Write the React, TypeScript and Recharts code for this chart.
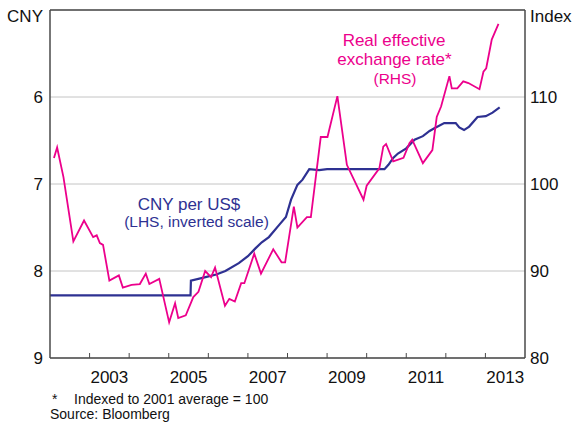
import { CartesianGrid, Line, LineChart, ReferenceLine, XAxis, YAxis } from 'recharts'

// Real effective exchange rate (index, RHS)
const reerDates = [
  2002.10, 2002.18, 2002.34, 2002.59, 2002.86, 2003.09, 2003.18, 2003.26, 2003.34, 2003.50,
  2003.74, 2003.84, 2004.06, 2004.27, 2004.42, 2004.51, 2004.76, 2005.01, 2005.16, 2005.24,
  2005.43, 2005.62, 2005.75, 2005.92, 2006.07, 2006.17, 2006.42, 2006.53, 2006.67, 2006.83,
  2006.91, 2007.16, 2007.33, 2007.64, 2007.85, 2007.94, 2008.16, 2008.25, 2008.49, 2008.59,
  2008.84, 2009.01, 2009.26, 2009.50, 2009.92, 2010.00, 2010.32, 2010.42, 2010.49, 2010.67,
  2010.93, 2011.08, 2011.15, 2011.42, 2011.66, 2011.77, 2011.88, 2012.09, 2012.15, 2012.29,
  2012.44, 2012.57, 2012.85, 2012.95, 2013.02, 2013.16, 2013.33
]
const reerValues = [
  103.0, 104.2, 100.8, 93.4, 95.8, 93.9, 94.1, 93.2, 93.0, 88.9,
  89.5, 88.1, 88.4, 88.5, 89.7, 88.5, 89.1, 84.1, 86.3, 84.6,
  84.9, 87.0, 87.6, 90.0, 89.3, 90.4, 86.0, 86.8, 86.5, 88.6,
  88.6, 92.0, 89.7, 92.5, 91.0, 91.0, 97.4, 95.0, 96.2, 96.2,
  105.4, 105.4, 110.1, 102.2, 98.2, 99.8, 101.8, 104.3, 104.6, 102.6,
  103.0, 104.7, 105.1, 102.4, 103.9, 107.7, 108.9, 112.4, 111.0, 111.0,
  111.8, 111.6, 110.9, 112.9, 113.3, 116.6, 118.4
]

// CNY per US$ (LHS, inverted)
const cnyDates = [
  2002.0, 2003.0, 2004.0, 2005.0, 2005.55, 2005.56, 2005.93, 2006.2, 2006.43, 2006.77,
  2007.0, 2007.19, 2007.35, 2007.53, 2007.79, 2007.96, 2008.09, 2008.25, 2008.38, 2008.55,
  2008.8, 2009.0, 2009.5, 2010.0, 2010.45, 2010.55, 2010.67, 2010.79, 2011.0, 2011.21,
  2011.42, 2011.59, 2011.71, 2011.96, 2012.25, 2012.34, 2012.46, 2012.59, 2012.80, 2013.01,
  2013.18, 2013.36
]
const cnyValues = [
  8.28, 8.28, 8.28, 8.28, 8.28, 8.11, 8.07, 8.04, 8.0, 7.91,
  7.83, 7.74, 7.67, 7.61, 7.47, 7.38, 7.18, 7.01, 6.95, 6.83,
  6.84, 6.83, 6.83, 6.83, 6.83, 6.78, 6.70, 6.65, 6.59, 6.49,
  6.45, 6.39, 6.36, 6.30, 6.30, 6.35, 6.38, 6.34, 6.23, 6.22,
  6.18, 6.12
]

const yearTicks = [2003, 2004, 2005, 2006, 2007, 2008, 2009, 2010, 2011, 2012, 2013]
const cnyTicks = [5, 6, 7, 8, 9]
const indexTicks = [80, 90, 100, 110, 120]

const reerData = reerDates.map((t, i) => ({ t, v: reerValues[i] }))
const cnyData = cnyDates.map((t, i) => ({ t, v: cnyValues[i] }))

const W = 575
const H = 423
const PLOT_W = 475
const HALF_YEAR = PLOT_W / 24
const FONT = '"Liberation Sans", Arial, sans-serif'
const PINK = '#ec008c'
const BLUE = '#2e3192'
const FRAME = '#4a4a4a'

const YearTick = ({ x, y, payload }: any) => (
  <g>
    <line x1={x} x2={x} y1={y} y2={y - 5} stroke={FRAME} strokeWidth={1} />
    {payload.value % 2 === 1 && (
      <text x={x + HALF_YEAR} y={y + 25} textAnchor="middle" fontSize={17} fontFamily={FONT} fill="#111">
        {payload.value}
      </text>
    )}
  </g>
)

const LeftTick = ({ x, y, payload }: any) => (
  <text x={x} y={y + (payload.value === 5 ? 6 : 0)} dy={6} textAnchor="end" fontSize={17} fontFamily={FONT} fill="#111">
    {payload.value === 5 ? 'CNY' : payload.value}
  </text>
)

const RightTick = ({ x, y, payload }: any) => (
  <text x={x} y={y + (payload.value === 120 ? 6 : 0)} dy={6} textAnchor="start" fontSize={17} fontFamily={FONT} fill="#111">
    {payload.value === 120 ? 'Index' : payload.value}
  </text>
)

export default function App() {
  return (
    <div style={{ position: 'absolute', left: 0, top: 0, width: W, height: H, background: '#fff' }}>
      <LineChart width={W} height={H} margin={{ top: 10, right: 0, bottom: 0, left: 0 }}>
        <CartesianGrid yAxisId="left" vertical={false} stroke="#c4c4c4" strokeWidth={1} />
        <XAxis
          dataKey="t"
          type="number"
          domain={[2002, 2014]}
          ticks={yearTicks}
          interval={0}
          height={65}
          tickLine={false}
          tickSize={0}
          tickMargin={0}
          axisLine={{ stroke: FRAME, strokeWidth: 1.5 }}
          tick={<YearTick />}
          allowDataOverflow
        />
        <YAxis
          yAxisId="left"
          type="number"
          domain={[5, 9]}
          reversed
          ticks={cnyTicks}
          interval={0}
          width={50}
          tickLine={false}
          tickSize={0}
          tickMargin={7}
          axisLine={{ stroke: FRAME, strokeWidth: 1.5 }}
          tick={<LeftTick />}
          allowDataOverflow
        />
        <YAxis
          yAxisId="right"
          orientation="right"
          type="number"
          domain={[80, 120]}
          ticks={indexTicks}
          interval={0}
          width={50}
          tickLine={false}
          tickSize={0}
          tickMargin={5}
          axisLine={{ stroke: FRAME, strokeWidth: 1.5 }}
          tick={<RightTick />}
          allowDataOverflow
        />
        <ReferenceLine yAxisId="left" y={5} stroke={FRAME} strokeWidth={1.5} />
        <Line
          yAxisId="left"
          data={cnyData}
          dataKey="v"
          type="linear"
          stroke={BLUE}
          strokeWidth={2.2}
          dot={false}
          isAnimationActive={false}
        />
        <Line
          yAxisId="right"
          data={reerData}
          dataKey="v"
          type="linear"
          stroke={PINK}
          strokeWidth={1.8}
          dot={false}
          isAnimationActive={false}
        />
      </LineChart>
      <svg
        width={W}
        height={H}
        style={{ position: 'absolute', left: 0, top: 0, pointerEvents: 'none' }}
        fontFamily={FONT}
      >
        <text x={394} y={45.5} textAnchor="middle" fontSize={17} fill={PINK}>Real effective</text>
        <text x={394.5} y={65} textAnchor="middle" fontSize={17} fill={PINK}>exchange rate*</text>
        <text x={395} y={84} textAnchor="middle" fontSize={15.5} fill={PINK}>(RHS)</text>
        <text x={189} y={210} textAnchor="middle" fontSize={17} fill={BLUE}>CNY per US$</text>
        <text x={196.5} y={227} textAnchor="middle" fontSize={15.5} fill={BLUE}>(LHS, inverted scale)</text>
        <text x={52} y={404} fontSize={14} fill="#111">*</text>
        <text x={74} y={404} fontSize={14} fill="#111">Indexed to 2001 average = 100</text>
        <text x={50} y={419} fontSize={14} fill="#111">Source: Bloomberg</text>
      </svg>
    </div>
  )
}
